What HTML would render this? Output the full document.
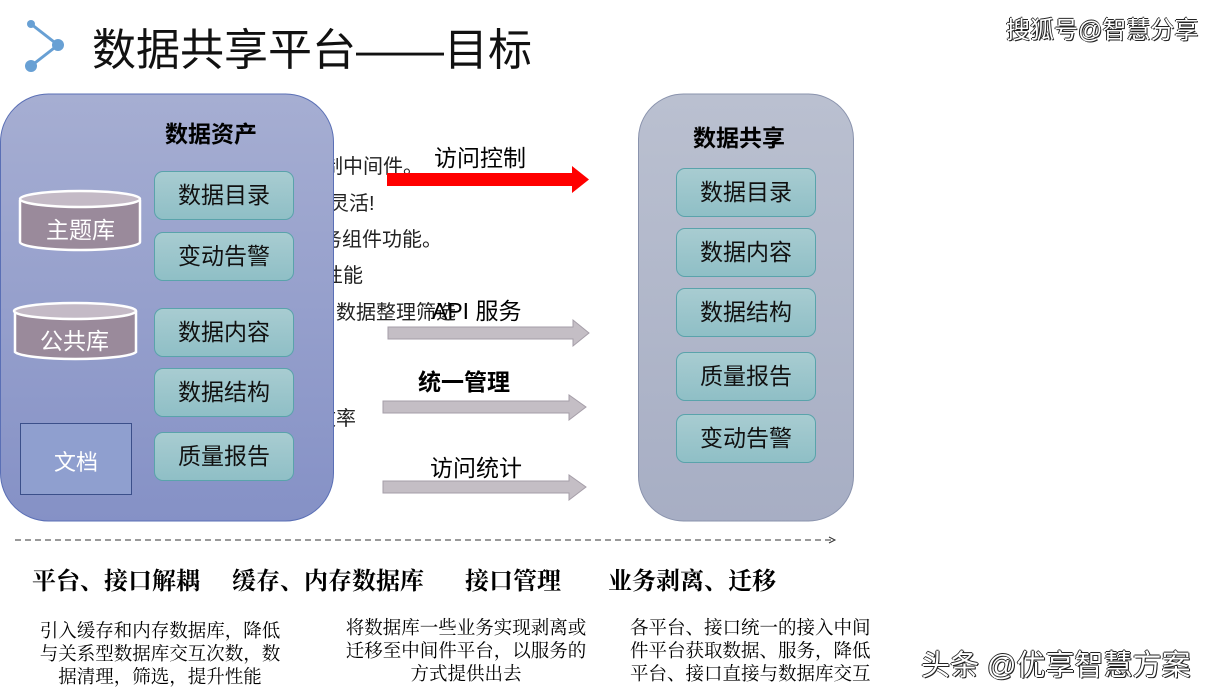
<!DOCTYPE html>
<html><head><meta charset="utf-8"><style>
body{margin:0;width:1229px;height:699px;background:#fff;position:relative;overflow:hidden;font-family:"Liberation Sans","Noto Sans CJK SC",sans-serif}
.a{position:absolute;white-space:nowrap}
.box{position:absolute;width:138px;height:47px;border:1px solid #5aa3ab;border-radius:9px;background:linear-gradient(#a8ccd1,#8fbfc6);font-size:23px;color:#111;text-align:center;line-height:47px}
.serif{font-family:"Liberation Serif","Noto Serif CJK SC",serif}
.clip{position:absolute;left:334px;top:140px;width:130px;height:300px;overflow:hidden}
.clip span{position:absolute;font-size:20px;color:#222;white-space:nowrap}
</style></head><body>
<div class="clip">
<span style="left:-11px;top:10px">制中间件。</span>
<span style="left:-5px;top:47px">灵活!</span>
<span style="left:-12px;top:83px">务组件功能。</span>
<span style="left:-11px;top:119px">性能</span>
<span style="left:-18px;top:156px">，数据整理筛选</span>
<span style="left:-18px;top:262px">效率</span>
</div>
<svg class="a" style="left:0;top:0" width="1229" height="699">
<defs>
<linearGradient id="lg" x1="0" y1="0" x2="0" y2="1"><stop offset="0" stop-color="#a6aed2"/><stop offset="1" stop-color="#8591c6"/></linearGradient>
<linearGradient id="rg" x1="0" y1="0" x2="0" y2="1"><stop offset="0" stop-color="#bac0d0"/><stop offset="1" stop-color="#a7aec4"/></linearGradient>
</defs>
<line x1="31" y1="24" x2="58" y2="45" stroke="#68a0d4" stroke-width="3"/>
<line x1="58" y1="45" x2="31" y2="66" stroke="#68a0d4" stroke-width="3"/>
<circle cx="31" cy="24" r="4" fill="#68a0d4"/><circle cx="58" cy="45" r="6" fill="#68a0d4"/><circle cx="31" cy="66" r="6" fill="#68a0d4"/>
<rect x="0.5" y="94" width="333" height="427" rx="48" fill="url(#lg)" stroke="#5a6fb5"/>
<rect x="638.5" y="94" width="215" height="427" rx="45" fill="url(#rg)" stroke="#8a93ad"/>
<g stroke="#fff" stroke-width="2.5">
<path d="M20 200 V242 A60 8 0 0 0 140 242 V200" fill="#9a8a9b"/>
<ellipse cx="80" cy="199" rx="60" ry="8" fill="#c4bac6"/>
<path d="M15 311 V352 A61 8 0 0 0 136 352 V311" fill="#9a8a9b"/>
<ellipse cx="75" cy="311" rx="61" ry="8" fill="#c4bac6"/>
</g>
<rect x="20.5" y="423.5" width="111" height="71" fill="#8f9fcf" stroke="#3b4f8a"/>
<polygon points="387,173 572,173 572,166 589,179.5 572,193 572,186 387,186" fill="#f00"/>
<g fill="#c4bec5" stroke="#a59ea8">
<polygon points="388,327 573,327 573,320 589,333 573,346 573,339 388,339"/>
<polygon points="383,401 569,401 569,395 586,407 569,420 569,413 383,413"/>
<polygon points="383,481 569,481 569,475 586,487 569,500 569,493 383,493"/>
</g>
<line x1="15" y1="540" x2="833" y2="540" stroke="#333" stroke-dasharray="6,4"/>
<polyline points="829,537 835,540 829,543" fill="none" stroke="#333"/>
</svg>
<div class="a" style="left:92px;top:14px;font-size:44px;color:#111">数据共享平台——目标</div>
<div class="a" style="left:1006px;top:10px;font-size:24px;color:#fff;text-shadow:1px 1px 0 #222,-1px 0 0 #222,0 -1px 0 #222">搜狐号@智慧分享</div>
<div class="a" style="left:165px;top:115px;font-size:23px;font-weight:bold">数据资产</div>
<div class="a" style="left:693px;top:119px;font-size:23px;font-weight:bold">数据共享</div>
<div class="box" style="left:154px;top:171px">数据目录</div>
<div class="box" style="left:154px;top:232px">变动告警</div>
<div class="box" style="left:154px;top:308px">数据内容</div>
<div class="box" style="left:154px;top:368px">数据结构</div>
<div class="box" style="left:154px;top:432px">质量报告</div>
<div class="box" style="left:676px;top:168px">数据目录</div>
<div class="box" style="left:676px;top:228px">数据内容</div>
<div class="box" style="left:676px;top:288px">数据结构</div>
<div class="box" style="left:676px;top:352px">质量报告</div>
<div class="box" style="left:676px;top:414px">变动告警</div>
<div class="a" style="left:46px;top:211px;font-size:23px;color:#fff">主题库</div>
<div class="a" style="left:40px;top:322px;font-size:23px;color:#fff">公共库</div>
<div class="a" style="left:54px;top:445px;font-size:22px;color:#fff">文档</div>
<div class="a" style="left:434px;top:139px;font-size:23px">访问控制</div>
<div class="a" style="left:432px;top:292px;font-size:23px">API 服务</div>
<div class="a" style="left:418px;top:363px;font-size:23px;font-weight:bold">统一管理</div>
<div class="a" style="left:430px;top:449px;font-size:23px">访问统计</div>
<div class="a serif" style="left:32px;top:561px;font-size:24px;font-weight:bold">平台、接口解耦</div>
<div class="a serif" style="left:232px;top:561px;font-size:24px;font-weight:bold">缓存、内存数据库</div>
<div class="a serif" style="left:465px;top:561px;font-size:24px;font-weight:bold">接口管理</div>
<div class="a serif" style="left:608px;top:561px;font-size:24px;font-weight:bold">业务剥离、迁移</div>
<div class="a serif" style="left:34px;top:621px;width:252px;font-size:18.5px;line-height:23px;text-align:center;white-space:normal">引入缓存和内存数据库，降低与关系型数据库交互次数，数据清理，筛选，提升性能</div>
<div class="a serif" style="left:341px;top:618px;width:250px;font-size:18.5px;line-height:23px;text-align:center;white-space:normal">将数据库一些业务实现剥离或迁移至中间件平台，以服务的方式提供出去</div>
<div class="a serif" style="left:630px;top:618px;width:250px;font-size:18.5px;line-height:23px;white-space:normal">各平台、接口统一的接入中间件平台获取数据、服务，降低平台、接口直接与数据库交互</div>
<div class="a" style="left:921px;top:642px;font-size:29px;color:#fff;text-shadow:1px 1px 0 #222,-1px 0 0 #222,0 -1px 0 #222,1px 0 0 #222">头条 @优享智慧方案</div>
</body></html>
